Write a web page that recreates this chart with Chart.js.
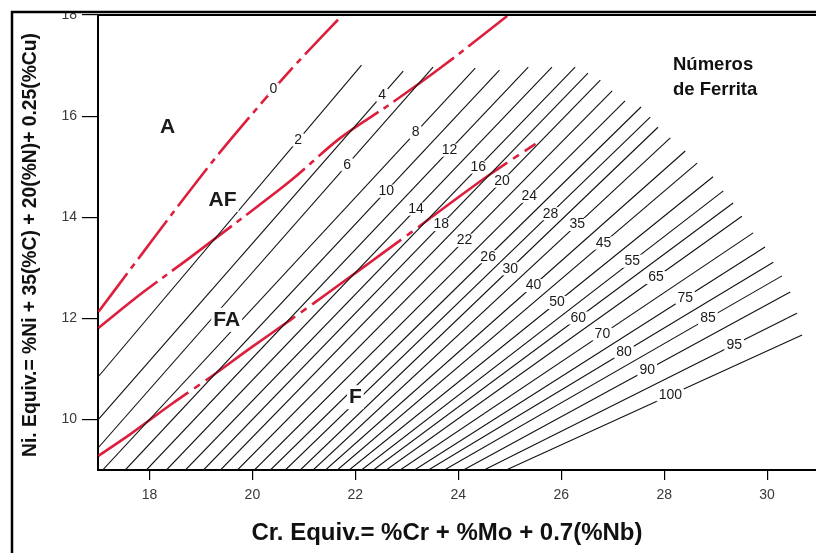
<!DOCTYPE html>
<html>
<head>
<meta charset="utf-8">
<script src="https://cdn.jsdelivr.net/npm/chart.js@4.4.1/dist/chart.umd.min.js"></script>
<style>
  html, body { margin: 0; padding: 0; background: #fff; }
  #wrc { display: block; }
</style>
</head>
<body>
<canvas id="wrc" width="816" height="553"></canvas>
<script>
// iso-ferrite lines (Ferrite Number)
const fnValues = [2, 4, 6, 8, 10, 12, 14, 16, 18, 20, 22, 24, 26, 28, 30,
                  35, 40, 45, 50, 55, 60, 65, 70, 75, 80, 85, 90, 95, 100];
// upper end of each line
const fnTopCr = [22.12, 22.93, 23.51, 24.33, 24.80, 25.36, 25.82, 26.27, 26.52, 26.76, 26.99, 27.24, 27.55, 27.73, 27.88,
                 28.12, 28.41, 28.64, 28.95, 29.15, 29.34, 29.51, 29.73, 29.96, 30.12, 30.29, 30.45, 30.58, 30.68];
const fnTopNi = [17.01, 16.89, 16.97, 16.95, 16.91, 16.97, 16.97, 16.97, 16.85, 16.71, 16.50, 16.30, 16.18, 15.98, 15.78,
                 15.57, 15.31, 15.07, 14.80, 14.52, 14.28, 14.02, 13.69, 13.41, 13.11, 12.84, 12.52, 12.10, 11.67];
// lower end (left border or bottom border)
const fnBaseCr = [17.00, 17.00, 17.00, 17.09, 17.53, 17.94, 18.33, 18.70, 19.05, 19.38, 19.71, 20.04, 20.35, 20.64, 20.93,
                  21.18, 21.42, 21.65, 21.88, 22.12, 22.35, 22.60, 22.87, 23.15, 23.42, 23.73, 24.10, 24.50, 24.93];
const fnBaseNi = [10.84, 9.99, 9.435, 9, 9, 9, 9, 9, 9, 9, 9, 9, 9, 9, 9,
                  9, 9, 9, 9, 9, 9, 9, 9, 9, 9, 9, 9, 9, 9];
// Cr equivalent where each number is written on its line
const fnLabelCr = [20.89, 22.52, 21.84, 23.17, 22.60, 23.83, 23.18, 24.39, 23.67, 24.85, 24.12, 25.38, 24.58, 25.79, 25.01,
                   26.31, 25.46, 26.82, 25.92, 27.38, 26.33, 27.84, 26.80, 28.41, 27.22, 28.85, 27.67, 29.36, 28.12];

// red boundaries
const zeroCr = [17.01, 17.88, 18.60, 19.28, 19.96, 20.74, 21.75];
const zeroNi = [12.13, 13.31, 14.28, 15.17, 16.00, 16.91, 18.00];
const zeroLabelCr = 20.41;
const afFaCr = [17.01, 17.83, 18.80, 19.77, 20.74, 21.71, 22.68, 23.65, 24.95];
const afFaNi = [11.81, 12.48, 13.21, 13.96, 14.72, 15.57, 16.24, 16.95, 17.98];
const faFCr = [17.01, 17.63, 18.41, 19.19, 19.96, 20.74, 21.52, 22.29, 23.07, 23.85, 24.62, 25.50];
const faFNi = [9.28, 9.71, 10.29, 10.84, 11.41, 11.97, 12.54, 13.11, 13.69, 14.28, 14.85, 15.45];

// solidification mode regions
const regionNames = ['A', 'AF', 'FA', 'F'];
const regionCr = [18.35, 19.42, 19.50, 22.00];
const regionNi = [15.78, 14.34, 11.97, 10.44];

const crTicks = [18, 20, 22, 24, 26, 28, 30];
const niTicks = [10, 12, 14, 16, 18];

const legendLines = ['Números', 'de Ferrita'];
const xTitle = 'Cr. Equiv.= %Cr + %Mo + 0.7(%Nb)';
const yTitle = 'Ni. Equiv.= %Ni + 35(%C) + 20(%N)+ 0.25(%Cu)';

const FONT = '"Liberation Sans", Arial, Helvetica, sans-serif';
const RED = '#dd1f3d';

function niOnPath(xs, ys, cr) {
  for (let i = 1; i < xs.length; i++) {
    if (cr <= xs[i]) {
      const t = (cr - xs[i - 1]) / (xs[i] - xs[i - 1]);
      return ys[i - 1] + t * (ys[i] - ys[i - 1]);
    }
  }
  return ys[ys.length - 1];
}

function fitFont(ctx, text, width, weight) {
  ctx.font = weight + ' 20px ' + FONT;
  return 20 * width / ctx.measureText(text).width;
}

function tag(ctx, text, px, py, h) {
  const w = ctx.measureText(text).width;
  ctx.fillStyle = '#fff';
  ctx.fillRect(px - w / 2 - 2, py - h / 2, w + 4, h);
  ctx.fillStyle = '#1a1a1a';
  ctx.fillText(text, px, py);
}

const datasets = fnValues.map((fn, i) => ({
  label: 'FN ' + fn,
  data: [{x: fnBaseCr[i], y: fnBaseNi[i]}, {x: fnTopCr[i], y: fnTopNi[i]}],
  borderColor: '#111',
  borderWidth: 1.1
}));

function redLine(name, xs, ys, dash) {
  return {
    label: name,
    data: xs.map((v, i) => ({x: v, y: ys[i]})),
    borderColor: RED,
    borderWidth: 2.6,
    borderDash: dash,
    tension: 0.4,
    cubicInterpolationMode: 'monotone'
  };
}
datasets.push(redLine('FN 0', zeroCr, zeroNi, [48, 6, 6, 6]));
datasets.push(redLine('AF/FA', afFaCr, afFaNi, [75, 6, 6, 6]));
datasets.push(redLine('FA/F', faFCr, faFNi, [110, 7, 7, 7]));

const overlay = {
  id: 'overlay',
  afterDatasetsDraw(chart) {
    const {ctx, chartArea: a, scales: {x, y}} = chart;
    ctx.save();
    ctx.textAlign = 'center';
    ctx.textBaseline = 'middle';

    // numbers on the lines
    ctx.font = '14px ' + FONT;
    fnValues.forEach((fn, i) => {
      const cr = fnLabelCr[i];
      const ni = niOnPath([fnBaseCr[i], fnTopCr[i]], [fnBaseNi[i], fnTopNi[i]], cr);
      tag(ctx, String(fn), x.getPixelForValue(cr), y.getPixelForValue(ni), 13);
    });
    tag(ctx, '0', x.getPixelForValue(zeroLabelCr),
        y.getPixelForValue(niOnPath(zeroCr, zeroNi, zeroLabelCr)), 13);

    // region letters
    ctx.font = 'bold 21px ' + FONT;
    regionNames.forEach((r, i) => {
      tag(ctx, r, x.getPixelForValue(regionCr[i]), y.getPixelForValue(regionNi[i]), 24);
    });

    // "Números de Ferrita"
    ctx.textAlign = 'left';
    ctx.font = 'bold 18.5px ' + FONT;
    ctx.fillStyle = '#111';
    ctx.fillText(legendLines[0], 673, 65);
    ctx.fillText(legendLines[1], 673, 90);

    // plot top border
    ctx.strokeStyle = '#000';
    ctx.lineWidth = 2;
    ctx.beginPath();
    ctx.moveTo(a.left, a.top);
    ctx.lineTo(a.right, a.top);
    ctx.stroke();

    // outer frame
    ctx.fillStyle = '#fff';
    ctx.fillRect(0, 0, chart.width, 11);
    ctx.fillRect(0, 0, 11, chart.height);
    ctx.lineWidth = 2.5;
    ctx.beginPath();
    ctx.moveTo(12, chart.height);
    ctx.lineTo(12, 12);
    ctx.lineTo(chart.width, 12);
    ctx.stroke();

    // axis titles
    ctx.fillStyle = '#111';
    ctx.textAlign = 'center';
    ctx.font = 'bold ' + fitFont(ctx, xTitle, 391, 'bold').toFixed(1) + 'px ' + FONT;
    ctx.fillText(xTitle, 447, 533);
    ctx.font = 'bold ' + fitFont(ctx, yTitle, 425, 'bold').toFixed(1) + 'px ' + FONT;
    ctx.translate(31, 245);
    ctx.rotate(-Math.PI / 2);
    ctx.fillText(yTitle, 0, 0);
    ctx.restore();
  }
};

Chart.defaults.font.family = FONT;

new Chart(document.getElementById('wrc'), {
  type: 'scatter',
  data: {datasets},
  options: {
    responsive: false,
    animation: false,
    devicePixelRatio: 1,
    showLine: true,
    elements: {point: {radius: 0, hoverRadius: 0}},
    layout: {padding: {top: 15, right: 0, left: 0, bottom: 0}},
    plugins: {legend: {display: false}, tooltip: {enabled: false}},
    scales: {
      x: {
        type: 'linear',
        min: 17,
        max: 30.95,
        afterBuildTicks: s => { s.ticks = crTicks.map(v => ({value: v})); },
        afterFit: s => { s.height = 83; s.paddingLeft = 0; s.paddingRight = 0; },
        ticks: {color: '#3a3a3a', font: {size: 14}, padding: 7},
        grid: {drawOnChartArea: false, color: '#000', tickLength: 10, lineWidth: 1.2},
        border: {color: '#000', width: 2}
      },
      y: {
        type: 'linear',
        min: 9,
        max: 18,
        afterBuildTicks: s => { s.ticks = niTicks.map(v => ({value: v})); },
        afterFit: s => { s.width = 98; s.paddingTop = 0; s.paddingBottom = 0; },
        ticks: {color: '#3a3a3a', font: {size: 14}, padding: 5},
        grid: {drawOnChartArea: false, color: '#000', tickLength: 16, lineWidth: 1.2},
        border: {color: '#000', width: 2}
      }
    }
  },
  plugins: [overlay]
});
</script>
</body>
</html>
